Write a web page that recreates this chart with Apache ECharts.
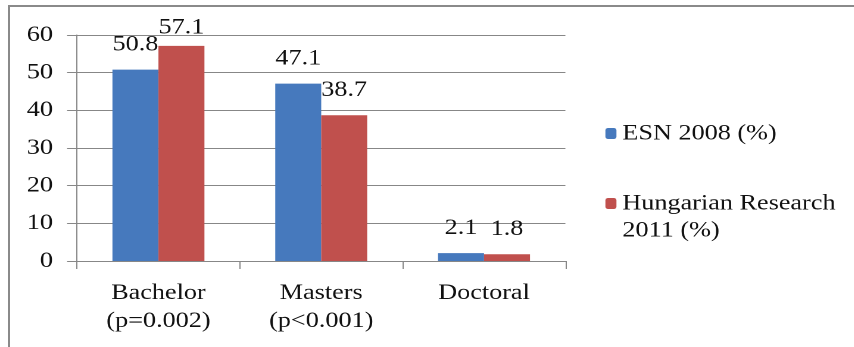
<!DOCTYPE html>
<html>
<head>
<meta charset="utf-8">
<script src="https://cdn.jsdelivr.net/npm/echarts@6/dist/echarts.min.js"></script>
<style>
  html, body { margin: 0; padding: 0; background: #fff; }
  body { width: 854px; height: 347px; overflow: hidden; position: relative; }
  #frame {
    position: absolute; left: 8px; top: 5px; width: 900px; height: 400px;
    border-left: 2.5px solid #8a8a8a; border-top: 2.5px solid #8a8a8a;
  }
  #chart {
    position: absolute; left: 0; top: 0; height: 347px;
    transform-origin: 0 0;
  }
</style>
</head>
<body>
<div id="frame"></div>
<div id="chart"></div>
<script>
// Education level of respondents, two surveys compared
const categories = ['Bachelor\n(p=0.002)', 'Masters\n(p<0.001)', 'Doctoral'];
const esn2008 = [50.8, 47.1, 2.1];
const hungarian2011 = [57.1, 38.7, 1.8];
const seriesNames = ['ESN 2008 (%)', 'Hungarian Research\n2011 (%)'];

// The chart is laid out narrow and widened horizontally so the serif text
// gets the same wide proportions as the bars.
const STRETCH = 1.19;
const W = 854 / STRETCH;
const el = document.getElementById('chart');
el.style.width = W + 'px';
el.style.transform = 'scaleX(' + STRETCH + ')';

const FONT = 'Liberation Serif';
const FS = 22;
const TEXT = '#111';
const AXIS = '#878787';
const sx = v => v / STRETCH;

const chart = echarts.init(el, null, { renderer: 'canvas', devicePixelRatio: 2, width: W, height: 347 });

const labelStyle = {
  show: true, position: 'top', distance: 14,
  fontFamily: FONT, fontSize: FS, color: TEXT
};

const legendText = { fontFamily: FONT, fontSize: FS, color: TEXT, lineHeight: 27 };

chart.setOption({
  animation: false,
  textStyle: { fontFamily: FONT },
  grid: { left: sx(77), right: sx(854 - 565), top: 35, bottom: 86 },
  legend: [
    {
      data: [seriesNames[0]], orient: 'vertical',
      left: sx(605), top: 120, padding: 0,
      itemWidth: sx(11), itemHeight: 11,
      textStyle: legendText
    },
    {
      // an empty first line keeps the marker level with the first text line
      data: [seriesNames[1]], orient: 'vertical',
      left: sx(605), top: 163, padding: 0,
      itemWidth: sx(11), itemHeight: 11,
      formatter: name => '\n' + name,
      textStyle: legendText
    }
  ],
  xAxis: {
    type: 'category',
    data: categories,
    axisLine: { lineStyle: { color: AXIS, width: 1 } },
    axisTick: { show: true, length: 8, lineStyle: { color: AXIS } },
    axisLabel: { margin: 18, fontFamily: FONT, fontSize: FS, color: TEXT, lineHeight: 28 }
  },
  yAxis: {
    type: 'value', min: 0, max: 60, interval: 10,
    axisLine: { show: true, lineStyle: { color: AXIS, width: 1 } },
    axisTick: { show: true, length: sx(10), lineStyle: { color: AXIS } },
    axisLabel: { margin: sx(24), fontFamily: FONT, fontSize: FS, color: TEXT },
    splitLine: { lineStyle: { color: AXIS, width: 1 } }
  },
  series: [
    {
      name: seriesNames[0], type: 'bar',
      data: esn2008,
      barGap: '0%', barCategoryGap: '43.5%',
      itemStyle: { color: '#4679bd' },
      label: labelStyle
    },
    {
      name: seriesNames[1], type: 'bar',
      // the tallest bar's label sits closer to the bar so it stays in the plot
      data: hungarian2011.map((v, i) => i === 0 ? { value: v, label: { distance: 7 } } : v),
      barGap: '0%', barCategoryGap: '43.5%',
      itemStyle: { color: '#c0504d' },
      label: labelStyle
    }
  ]
});
</script>
</body>
</html>
